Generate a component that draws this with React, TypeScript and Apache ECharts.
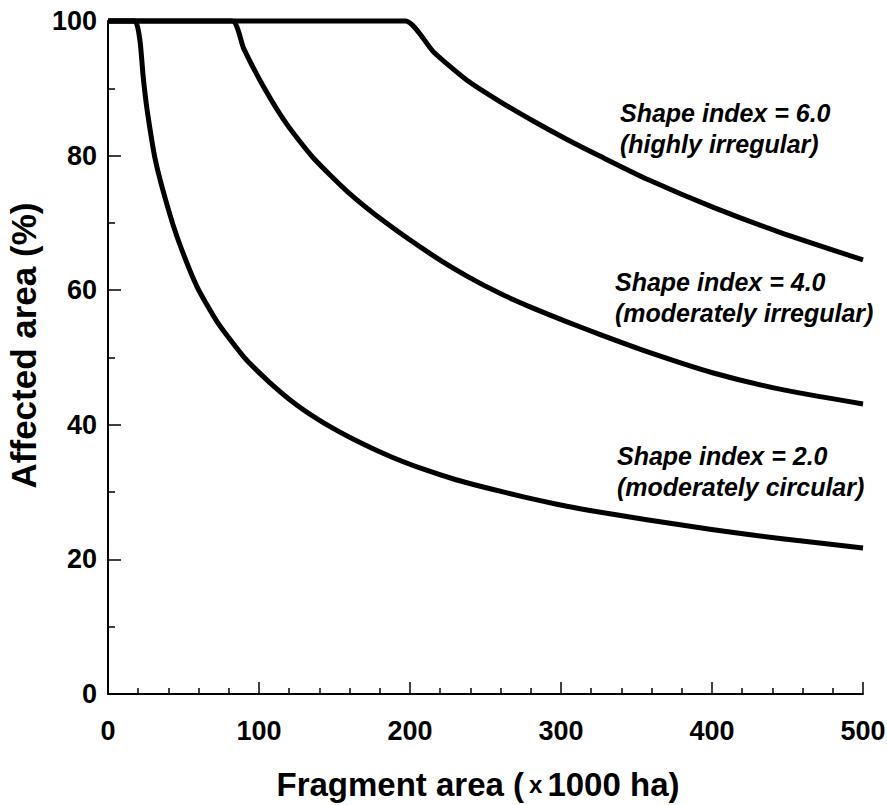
import React, { useEffect, useRef } from "react";
import * as echarts from "echarts";

// Fragment area (x1000 ha) and affected area (%)
const si2X = [0, 17.7, 21.1, 23.3, 25.9, 31.4, 39.2, 46.9, 59.0, 72.3, 89.9, 107.5, 125.2, 142.8, 164.9, 187, 209, 231, 253.2, 275.2, 297.3, 318.2, 356.8, 400.9, 445, 500];
const si2Y = [100, 100, 97.2, 91.7, 86.8, 79.3, 72.6, 67.2, 60.5, 55.3, 50.1, 46.2, 42.9, 40.3, 37.6, 35.3, 33.4, 31.8, 30.5, 29.3, 28.2, 27.3, 25.9, 24.4, 23.1, 21.7];

const si4X = [0, 82.2, 89.9, 103.1, 118.6, 136.2, 158.3, 184.8, 215.6, 237.7, 259.8, 281.9, 304, 326, 357.9, 400.9, 445, 500];
const si4Y = [100, 100, 95.9, 90.2, 84.6, 79.6, 74.7, 69.9, 65.1, 62.1, 59.5, 57.3, 55.3, 53.4, 50.8, 47.7, 45.3, 43.1];

const si6X = [0, 197, 215.6, 237.7, 259.8, 281.9, 304, 326, 357.9, 400.9, 445, 500];
const si6Y = [100, 100, 95.4, 91.2, 88.0, 85.1, 82.4, 79.9, 76.4, 72.3, 68.6, 64.5];

const seriesNames = ["Shape index = 2.0", "Shape index = 4.0", "Shape index = 6.0"];
const annotations = [
  "Shape index = 6.0\n(highly irregular)",
  "Shape index = 4.0\n(moderately irregular)",
  "Shape index = 2.0\n(moderately circular)",
];

const xTitle = "Fragment area ({s|x}1000 ha)";
const yTitle = "Affected area (%)";

const FONT = '"Liberation Sans", Arial, Helvetica, sans-serif';

function pairs(xs: number[], ys: number[]) {
  return xs.map((x, i) => [x, ys[i]]);
}

export default function App() {
  const ref = useRef<HTMLDivElement>(null);
  useEffect(() => {
    if (!ref.current) return;
    const chart = echarts.init(ref.current, undefined, { renderer: "svg" });
    const lineSeries = (name: string, data: number[][]) => ({
      name,
      type: "line",
      data,
      showSymbol: false,
      symbol: "none",
      smooth: 0.2,
      clip: false,
      lineStyle: { color: "#000", width: 5, join: "round", cap: "butt" },
      emphasis: { disabled: true },
    });
    const annoPos = [
      [620, 97],
      [615, 266],
      [617, 440],
    ];
    chart.setOption({
      animation: false,
      backgroundColor: "#fff",
      grid: { left: 108, right: 24, top: 21, bottom: 111, containLabel: false, outerBoundsMode: "none" },
      xAxis: {
        type: "value",
        min: 0,
        max: 500,
        interval: 100,
        axisLine: { lineStyle: { color: "#000", width: 2 } },
        axisTick: { inside: true, length: 12, lineStyle: { color: "#000", width: 1.5 } },
        minorTick: { show: true, splitNumber: 5, length: 6, lineStyle: { color: "#000", width: 1.5 } },
        splitLine: { show: false },
        axisLabel: { color: "#000", fontFamily: FONT, fontWeight: "bold", fontSize: 27, margin: 23 },
        name: xTitle,
        nameLocation: "middle",
        nameGap: 74,
        nameTextStyle: {
          color: "#000",
          fontFamily: FONT,
          fontWeight: "bold",
          fontSize: 33,
          padding: [0, 15, 0, 0],
          rich: {
            s: { color: "#000", fontFamily: FONT, fontWeight: "bold", fontSize: 24, padding: [0, 5, 0, 5] },
          },
        },
      },
      yAxis: {
        type: "value",
        min: 0,
        max: 100,
        interval: 20,
        axisLine: { lineStyle: { color: "#000", width: 2 } },
        axisTick: { inside: true, length: 13, lineStyle: { color: "#000", width: 1.5 } },
        minorTick: { show: true, splitNumber: 2, length: 7, lineStyle: { color: "#000", width: 1.5 } },
        splitLine: { show: false },
        axisLabel: { color: "#000", fontFamily: FONT, fontWeight: "bold", fontSize: 27, margin: 11 },
        name: yTitle,
        nameLocation: "middle",
        nameRotate: 90,
        nameGap: 61,
        nameTextStyle: {
          color: "#000",
          fontFamily: FONT,
          fontWeight: "bold",
          fontSize: 35,
          padding: [0, 0, 0, 24],
        },
      },
      series: [
        lineSeries(seriesNames[0], pairs(si2X, si2Y)),
        lineSeries(seriesNames[1], pairs(si4X, si4Y)),
        lineSeries(seriesNames[2], pairs(si6X, si6Y)),
      ],
      graphic: annotations.map((t, i) => ({
        type: "text",
        x: annoPos[i][0],
        y: annoPos[i][1],
        style: {
          text: t,
          fill: "#000",
          fontFamily: FONT,
          fontWeight: "bold",
          fontStyle: "italic",
          fontSize: 25,
          lineHeight: 31,
          align: "left",
          verticalAlign: "top",
        },
      })),
    });
    return () => chart.dispose();
  }, []);
  return (
    <div
      ref={ref}
      style={{ position: "absolute", left: 0, top: 0, width: 887, height: 805 }}
    />
  );
}
